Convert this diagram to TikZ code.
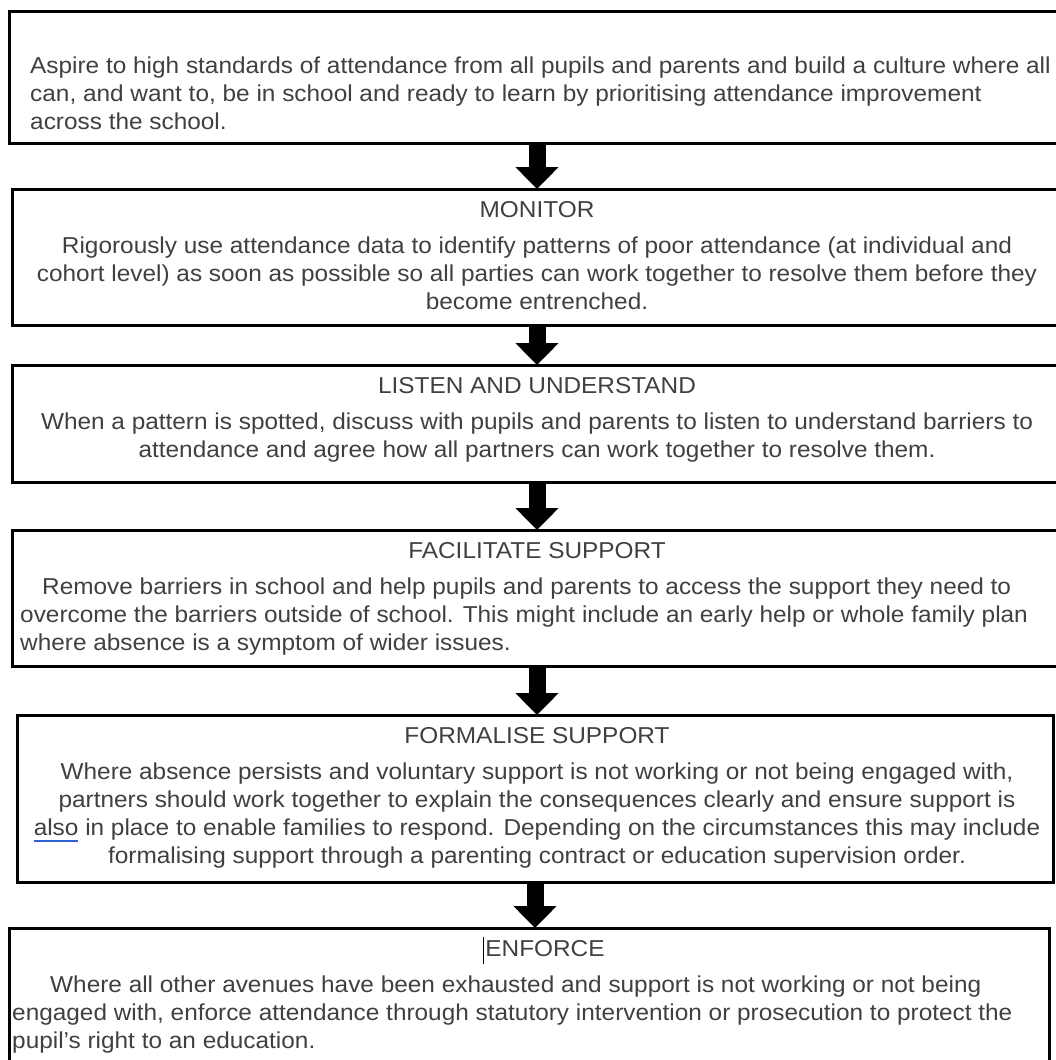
\documentclass[tikz,border=0pt]{standalone}
\usepackage{fontspec}
\setmainfont{Liberation Sans}[FakeStretch=1.06]
\usetikzlibrary{arrows.meta}
\definecolor{textgray}{gray}{0.25}
\definecolor{ulblue}{HTML}{2F62D6}
\newsavebox\ulbox
\newcommand\blueul[1]{\sbox\ulbox{#1}\rlap{\textcolor{ulblue}{\rule[-6.5pt]{\wd\ulbox}{2.5pt}}}\usebox\ulbox}
\begin{document}
\begin{tikzpicture}[x=1pt,y=-1pt,
  stagebox/.style={draw=black, line width=3pt, rectangle, inner sep=0pt, outer sep=0pt, anchor=north west},
  linetext/.style={text=textgray, font=\fontsize{23}{28}\selectfont, inner sep=0pt, yshift=-5pt},
  flowarrow/.style={draw=black, line width=17pt, -{Triangle[length=22pt,width=42pt]}}]
\useasboundingbox[fill=white] (0,0) rectangle (1055,1060);

% boxes
\node[stagebox, minimum width=1070pt, minimum height=132pt] (b1) at (9,11) {};
\node[stagebox, minimum width=1070pt, minimum height=136pt] (b2) at (12,189) {};
\node[stagebox, minimum width=1070pt, minimum height=117pt] (b3) at (12,365) {};
\node[stagebox, minimum width=1070pt, minimum height=136pt] (b4) at (12,530) {};
\node[stagebox, minimum width=1036pt, minimum height=167pt] (b5) at (17,715) {};
\node[stagebox, minimum width=1040pt, minimum height=140pt] (b6) at (9,928) {};

% arrows
\coordinate (ax) at (537,0);
\coordinate (axb) at (535,0);
\draw[flowarrow] (b1.south -| ax) -- (b2.north -| ax);
\draw[flowarrow] (b2.south -| ax) -- (b3.north -| ax);
\draw[flowarrow] (b3.south -| ax) -- (b4.north -| ax);
\draw[flowarrow] (b4.south -| ax) -- (b5.north -| ax);
\draw[flowarrow] (b5.south -| axb) -- (b6.north -| axb);

% box 1
\node[linetext, anchor=mid west] (t1a) at (30,66) {Aspire to high standards of attendance from all pupils and parents and build a culture where all};
\node[linetext, anchor=mid west] (t1b) at (30,94) {can, and want to, be in school and ready to learn by prioritising attendance improvement};
\node[linetext, anchor=mid west] (t1c) at (30,122) {across the school.};

% box 2
\node[linetext, anchor=mid] (h2) at (537,210) {MONITOR};
\node[linetext, anchor=mid] (t2a) at (537,246) {Rigorously use attendance data to identify patterns of poor attendance (at individual and};
\node[linetext, anchor=mid] (t2b) at (537,274) {cohort level) as soon as possible so all parties can work together to resolve them before they};
\node[linetext, anchor=mid] (t2c) at (537,302) {become entrenched.};

% box 3
\node[linetext, anchor=mid] (h3) at (537,386) {LISTEN AND UNDERSTAND};
\node[linetext, anchor=mid] (t3a) at (537,422) {When a pattern is spotted, discuss with pupils and parents to listen to understand barriers to};
\node[linetext, anchor=mid] (t3b) at (537,450) {attendance and agree how all partners can work together to resolve them.};

% box 4
\node[linetext, anchor=mid] (h4) at (537,551) {FACILITATE SUPPORT};
\node[linetext, anchor=mid west] (t4a) at (42,587) {Remove barriers in school and help pupils and parents to access the support they need to};
\node[linetext, anchor=mid west] (t4b) at (20,615) {overcome the barriers outside of school. This might include an early help or whole family plan};
\node[linetext, anchor=mid west] (t4c) at (20,643) {where absence is a symptom of wider issues.};

% box 5
\node[linetext, anchor=mid] (h5) at (537,736) {FORMALISE SUPPORT};
\node[linetext, anchor=mid] (t5a) at (537,772) {Where absence persists and voluntary support is not working or not being engaged with,};
\node[linetext, anchor=mid] (t5b) at (537,800) {partners should work together to explain the consequences clearly and ensure support is};
\node[linetext, anchor=mid] (t5c) at (537,828) {\blueul{also} in place to enable families to respond. Depending on the circumstances this may include};
\node[linetext, anchor=mid] (t5d) at (537,856) {formalising support through a parenting contract or education supervision order.};

% box 6
\node[linetext, anchor=mid] (h6) at (545,949) {ENFORCE};
\draw[line width=1.3pt] ([xshift=-1.5pt,yshift=3pt]h6.north west) -- ([xshift=-1.5pt,yshift=-7pt]h6.south west);
\node[linetext, anchor=mid west] (t6a) at (50,985) {Where all other avenues have been exhausted and support is not working or not being};
\node[linetext, anchor=mid west] (t6b) at (12,1013) {engaged with, enforce attendance through statutory intervention or prosecution to protect the};
\node[linetext, anchor=mid west] (t6c) at (12,1041) {pupil's right to an education.};
\end{tikzpicture}
\end{document}
